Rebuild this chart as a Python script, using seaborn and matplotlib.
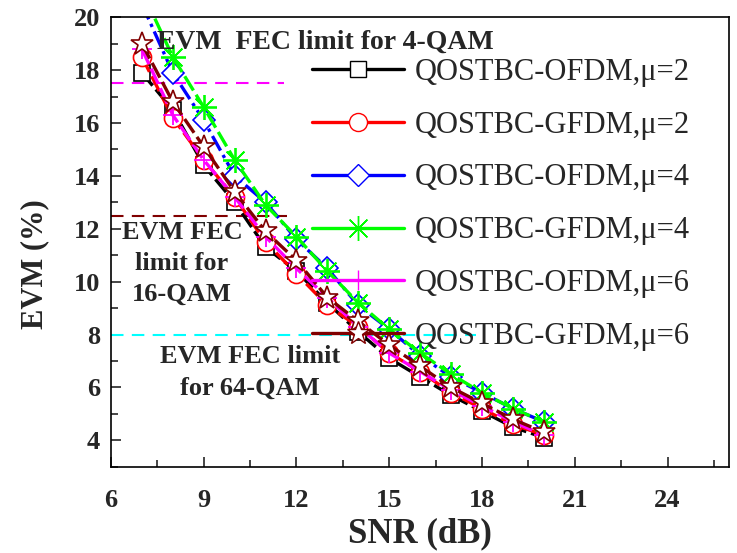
import pandas as pd
import matplotlib
matplotlib.use('Agg')
import matplotlib.pyplot as plt
from matplotlib.lines import Line2D
from matplotlib.ticker import MultipleLocator
import seaborn as sns

# SNR values (dB)
snr = [7, 8, 9, 10, 11, 12, 13, 14, 15, 16, 17, 18, 19, 20]

# EVM (%)
ofdm_mu2 = [17.9, 16.5, 14.4, 13.0, 11.3, 10.4, 9.2, 8.1, 7.1, 6.4, 5.7, 5.1, 4.5, 4.1]
gfdm_mu2 = [18.5, 16.2, 14.6, 13.2, 11.5, 10.3, 9.1, 8.3, 7.3, 6.6, 5.8, 5.2, 4.6, 4.2]
ofdm_mu4 = [20.5, 17.9, 16.1, 14.0, 13.0, 11.6, 10.5, 9.1, 8.2, 7.2, 6.4, 5.8, 5.2, 4.7]
gfdm_mu4 = [21.0, 18.5, 16.6, 14.6, 12.9, 11.7, 10.4, 9.2, 8.2, 7.3, 6.5, 5.8, 5.2, 4.7]
ofdm_mu6 = [18.8, 16.3, 14.6, 13.2, 11.7, 10.5, 9.4, 8.3, 7.3, 6.6, 5.9, 5.3, 4.7, 4.2]
gfdm_mu6 = [19.0, 16.8, 15.1, 13.4, 11.9, 10.8, 9.4, 8.5, 7.6, 6.8, 6.0, 5.4, 4.8, 4.3]

labels = ['QOSTBC-OFDM,\u03bc=2', 'QOSTBC-GFDM,\u03bc=2', 'QOSTBC-OFDM,\u03bc=4',
          'QOSTBC-GFDM,\u03bc=4', 'QOSTBC-OFDM,\u03bc=6', 'QOSTBC-GFDM,\u03bc=6']
series = [ofdm_mu2, gfdm_mu2, ofdm_mu4, gfdm_mu4, ofdm_mu6, gfdm_mu6]

# FEC limit reference lines: level, right end (dB), colour
fec_levels = [17.5, 12.5, 8.0]
fec_ends = [11.6, 11.7, 17.8]
fec_colors = ['#ff00ff', '#800000', '#00ffff']

colors = ['black', 'red', 'blue', '#00ff00', '#ff00ff', '#800000']
markers = ['s', 'o', 'D', (8, 2, 0), '+', '*']
msizes = [11, 13, 11, 18, 14, 17]
styles = [(0, (5, 1.5)), (0, (5, 1.5)), (0, (5, 1.5, 1, 1.5)), (0, (5, 1.5)), (0, (5, 1.5)), (0, (5, 1.5))]

sns.set_style('ticks')
plt.rcParams['font.family'] = ['Liberation Serif', 'DejaVu Serif']

fig = plt.figure(figsize=(7.37, 5.53), dpi=100)
ax = fig.add_axes([0.1506, 0.156, 0.839, 0.8127])

df = pd.DataFrame({'snr': snr})
for vals, lab, c, m, ms, ls in zip(series, labels, colors, markers, msizes, styles):
    df[lab] = vals
    hollow = m not in ('+', (8, 2, 0))
    sns.lineplot(data=df, x='snr', y=lab, ax=ax, color=c, linewidth=2.4,
                 linestyle=ls, marker=m, markersize=ms,
                 markerfacecolor='white' if hollow else c,
                 markeredgecolor=c, markeredgewidth=1.2 if hollow else 1.3,
                 label=None, legend=False)

for lvl, end, c in zip(fec_levels, fec_ends, fec_colors):
    ax.plot([6, end], [lvl, lvl], color=c, linewidth=1.5, linestyle=(0, (6, 4)), zorder=1)

ax.set_xlim(6, 26)
ax.set_ylim(3, 20)
ax.xaxis.set_major_locator(MultipleLocator(3))
ax.xaxis.set_minor_locator(MultipleLocator(1.5))
ax.yaxis.set_major_locator(MultipleLocator(2))
ax.yaxis.set_minor_locator(MultipleLocator(1))
ax.set_yticks([4, 6, 8, 10, 12, 14, 16, 18, 20])
ax.tick_params(which='both', direction='in', width=1.2, labelsize=19)
ax.tick_params(which='major', length=7)
ax.tick_params(which='minor', length=5)
ax.tick_params(axis='x', which='major', pad=16)
ax.tick_params(axis='y', which='major', pad=8)
for lab in ax.get_xticklabels() + ax.get_yticklabels():
    lab.set_fontweight('bold')
for sp in ax.spines.values():
    sp.set_linewidth(1.2)
    sp.set_color('black')

ax.set_xlabel('SNR (dB)', fontsize=25, fontweight='bold', labelpad=4)
ax.set_ylabel('EVM (%)', fontsize=22, fontweight='bold')
ax.yaxis.set_label_coords(-0.1, 0.45)

ax.text(7.5, 19.05, 'EVM  FEC limit for 4-QAM', fontsize=20, fontweight='bold',
        ha='left', va='center')
ax.text(8.3, 10.7, 'EVM FEC\nlimit for\n16-QAM', fontsize=19, fontweight='bold',
        ha='center', va='center', linespacing=1.45)
ax.text(10.5, 6.57, 'EVM FEC limit\nfor 64-QAM', fontsize=19, fontweight='bold',
        ha='center', va='center', linespacing=1.45)

handles = []
for lab, c, m, ms in zip(labels, colors, markers, msizes):
    hollow = m not in ('+', (8, 2, 0))
    handles.append(Line2D([], [], color=c, linewidth=2.4, marker=m, markersize=ms,
                          markerfacecolor='white' if hollow else c,
                          markeredgecolor=c, label=lab))
ax.legend(handles=handles, loc='upper left', bbox_to_anchor=(0.325, 0.91),
          frameon=False, fontsize=22, handlelength=3.0, handletextpad=0.35,
          labelspacing=0.78, borderpad=0, borderaxespad=0)

fig.savefig('out.png', dpi=100)
